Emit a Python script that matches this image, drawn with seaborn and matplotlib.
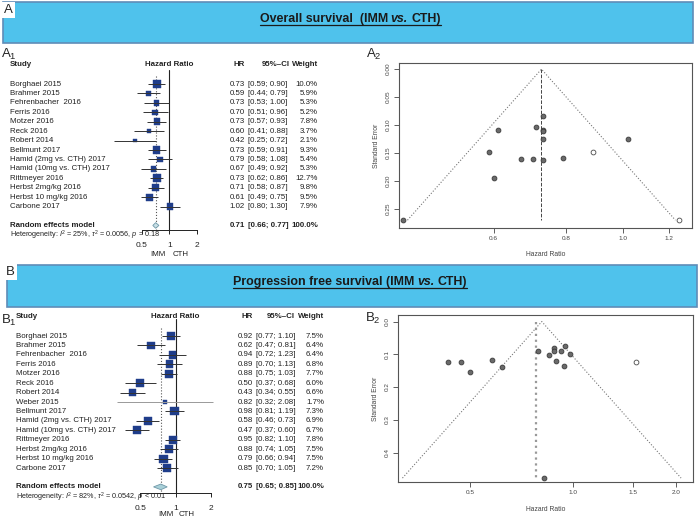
import numpy as np
import pandas as pd
import matplotlib
matplotlib.use("Agg")
import matplotlib.pyplot as plt
import seaborn as sns
from matplotlib.transforms import IdentityTransform, blended_transform_factory
from matplotlib.patches import Rectangle
from matplotlib.lines import Line2D
from matplotlib.ticker import NullLocator, FixedLocator, FixedFormatter

# ---- data: overall survival ----
os_study = ["Borghaei 2015", "Brahmer 2015", "Fehrenbacher  2016", "Ferris 2016", "Motzer 2016",
            "Reck 2016", "Robert 2014", "Bellmunt 2017", "Hamid (2mg vs. CTH) 2017",
            "Hamid (10mg vs. CTH) 2017", "Rittmeyer 2016", "Herbst 2mg/kg 2016",
            "Herbst 10 mg/kg 2016", "Carbone 2017"]
os_hr = [0.73, 0.59, 0.73, 0.70, 0.73, 0.60, 0.42, 0.73, 0.79, 0.67, 0.73, 0.71, 0.61, 1.02]
os_lo = [0.59, 0.44, 0.53, 0.51, 0.57, 0.41, 0.25, 0.59, 0.58, 0.49, 0.62, 0.58, 0.49, 0.80]
os_hi = [0.90, 0.79, 1.00, 0.96, 0.93, 0.88, 0.72, 0.91, 1.08, 0.92, 0.86, 0.87, 0.75, 1.30]
os_wt = [10.0, 5.9, 5.3, 5.2, 7.8, 3.7, 2.1, 9.3, 5.4, 5.3, 12.7, 9.8, 9.5, 7.9]
os_pooled = [0.71, 0.66, 0.77]
os_het = r"Heterogeneity: $I^2$ = 25%, $\tau^2$ = 0.0056, $p$ = 0.18"
# funnel (standard errors)
os_se = [0.108, 0.149, 0.162, 0.161, 0.125, 0.195, 0.270, 0.111, 0.159, 0.161, 0.084, 0.103, 0.109, 0.124]
os_fill_hr = [0.89, 1.25]
os_fill_se = [0.149, 0.270]
os_center = 0.725

# ---- data: progression free survival ----
pfs_study = ["Borghaei 2015", "Brahmer 2015", "Fehrenbacher  2016", "Ferris 2016", "Motzer 2016",
             "Reck 2016", "Robert 2014", "Weber 2015", "Bellmunt 2017", "Hamid (2mg vs. CTH) 2017",
             "Hamid (10mg vs. CTH) 2017", "Rittmeyer 2016", "Herbst 2mg/kg 2016",
             "Herbst 10 mg/kg 2016", "Carbone 2017"]
pfs_hr = [0.92, 0.62, 0.94, 0.89, 0.88, 0.50, 0.43, 0.82, 0.98, 0.58, 0.47, 0.95, 0.88, 0.79, 0.85]
pfs_lo = [0.77, 0.47, 0.72, 0.70, 0.75, 0.37, 0.34, 0.32, 0.81, 0.46, 0.37, 0.82, 0.74, 0.66, 0.70]
pfs_hi = [1.10, 0.81, 1.23, 1.13, 1.03, 0.68, 0.55, 2.08, 1.19, 0.73, 0.60, 1.10, 1.05, 0.94, 1.05]
pfs_wt = [7.5, 6.4, 6.4, 6.8, 7.7, 6.0, 6.6, 1.7, 7.3, 6.9, 6.7, 7.8, 7.5, 7.5, 7.2]
pfs_pooled = [0.75, 0.65, 0.85]
pfs_het = r"Heterogeneity: $I^2$ = 82%, $\tau^2$ = 0.0542, $p$ < 0.01"
pfs_se = [0.091, 0.139, 0.137, 0.122, 0.081, 0.155, 0.123, 0.478, 0.098, 0.118, 0.123, 0.075, 0.089, 0.090, 0.103]
pfs_fill_hr = [1.53]
pfs_fill_se = [0.123]
pfs_center = 0.81
pfs_vline = 0.78

sns.set_theme(style="white")
plt.rcParams["font.family"] = ["Liberation Sans", "DejaVu Sans"]
plt.rcParams["mathtext.fontset"] = "custom"
plt.rcParams["mathtext.rm"] = "Liberation Sans"
plt.rcParams["mathtext.it"] = "Liberation Sans:italic"
plt.rcParams["mathtext.bf"] = "Liberation Sans:bold"

W, H = 700, 518
fig = plt.figure(figsize=(W / 100, H / 100), dpi=100)
fig.patch.set_facecolor("white")


def rect(x0, y0, x1, y1):
    return [x0 / W, 1 - y1 / H, (x1 - x0) / W, (y1 - y0) / H]


def ptext(x, y, s, **kw):
    return fig.text(x / W, 1 - y / H, s, **kw)


def banner(x0, y0, x1, y1, letter, lx, ly, parts):
    fig.add_artist(Rectangle((x0 / W, 1 - y1 / H), (x1 - x0) / W, (y1 - y0) / H,
                             transform=fig.transFigure, facecolor="#4fc2ec",
                             edgecolor="#5f8cb8", lw=1.2))
    ptext(lx, ly, letter, fontsize=9.5, va="center", ha="left",
          bbox=dict(facecolor="white", edgecolor="none", pad=1.2))
    # title made of pieces (italic "vs.") and underlined
    r = fig.canvas.get_renderer()
    objs = [fig.text(0, 0, s, fontsize=8.9, fontweight="bold", style=st,
                     transform=IdentityTransform(), va="baseline", color="#1a1a1a")
            for s, st in parts]
    ws = [o.get_window_extent(r).width for o in objs]
    gap = 3
    total = sum(ws) + gap * (len(ws) - 1)
    cx, base = 350, y0 + 20
    x = cx - total / 2
    for o, w in zip(objs, ws):
        o.set_position((x, H - base))
        x += w + gap
    fig.add_artist(Line2D([cx - total / 2, cx + total / 2], [H - base - 2.5, H - base - 2.5],
                          transform=IdentityTransform(), color="#1a1a1a", lw=0.9))


def panel_label(x, y, letter, num):
    ptext(x, y, letter + r"$_\mathregular{" + num + "}$", fontsize=9.5, va="center", ha="left")


def forest(L, study, hr, lo, hi, wt, pooled, het):
    n = len(study)
    rows = np.arange(n)
    r_top = (L["ax_y0"] - L["row0"]) / L["rh"]
    r_bot = (L["ax_y1"] - L["row0"]) / L["rh"]
    ax = fig.add_axes(rect(L["ax_x0"], L["ax_y0"], L["ax_x1"], L["ax_y1"]))
    ax.set_xscale("log")
    ax.set_xlim(np.exp((L["ax_x0"] - L["ref"]) / L["sc"]), np.exp((L["ax_x1"] - L["ref"]) / L["sc"]))
    ax.set_ylim(r_bot, r_top)
    ax.patch.set_alpha(0)
    for s in ["top", "left", "right"]:
        ax.spines[s].set_visible(False)
    ax.spines["bottom"].set_bounds(0.5, 2)
    ax.spines["bottom"].set_color("#222")
    ax.spines["bottom"].set_linewidth(0.7)
    ax.xaxis.set_major_locator(FixedLocator([0.5, 1, 2]))
    ax.xaxis.set_major_formatter(FixedFormatter(["0.5", "1", "2"]))
    ax.xaxis.set_minor_locator(NullLocator())
    ax.tick_params(axis="x", bottom=True, direction="out", length=3, width=0.7, pad=5.5,
                   labelsize=6, colors="#222")
    ax.set_yticks([])
    ax.grid(False)

    ax.axvline(1, color="#222", lw=0.8, zorder=1)
    ax.plot([pooled[0], pooled[0]], [-0.8, r_bot], ls=":", color="#555", lw=0.8, zorder=1)

    df = pd.DataFrame({"hr": hr, "row": rows, "wt": wt})
    sns.scatterplot(data=df, x="hr", y="row", size="wt", sizes=(0, 36), size_norm=(0, max(wt)),
                    marker="s", color="#1f3d8a", edgecolor="#1f3d8a", linewidth=0.3,
                    legend=False, ax=ax, zorder=3)
    line_col = ["#999999" if w < 2 else "#333333" for w in wt]
    ax.hlines(rows, lo, hi, colors=line_col, lw=0.7, zorder=4)
    ax.set_xlabel("")
    ax.set_ylabel("")

    pr = L["pooled_row"]
    ax.fill([pooled[1], pooled[0], pooled[2], pooled[0]], [pr, pr - 0.3, pr, pr + 0.3],
            facecolor=L["diamond"], edgecolor="#6f98a8", lw=0.6, zorder=5)

    tr = blended_transform_factory(fig.transFigure, ax.transData)
    fs = 5.65
    for i in range(n):
        fig.text(L["x_name"] / W, i, study[i], transform=tr, fontsize=fs, va="center", ha="left", color="#222")
        fig.text(L["x_hr"] / W, i, f"{hr[i]:.2f}", transform=tr, fontsize=fs, va="center", ha="right", color="#222")
        fig.text(L["x_ci"] / W, i, f"[{lo[i]:.2f}; {hi[i]:.2f}]", transform=tr, fontsize=fs,
                 va="center", ha="left", color="#222")
        fig.text(L["x_wt"] / W, i, f"{wt[i]:.1f}%", transform=tr, fontsize=fs, va="center", ha="right", color="#222")
    fig.text(L["x_name"] / W, pr, "Random effects model", transform=tr, fontsize=fs,
             fontweight="bold", va="center", ha="left", color="#222")
    fig.text(L["x_hr"] / W, pr, f"{pooled[0]:.2f}", transform=tr, fontsize=fs, fontweight="bold",
             va="center", ha="right", color="#222")
    fig.text(L["x_ci"] / W, pr, f"[{pooled[1]:.2f}; {pooled[2]:.2f}]", transform=tr, fontsize=fs,
             fontweight="bold", va="center", ha="left", color="#222")
    fig.text(L["x_wt"] / W, pr, "100.0%", transform=tr, fontsize=fs, fontweight="bold",
             va="center", ha="right", color="#222")

    hy = L["hdr_y"]
    ptext(L["x_name"], hy, "Study", fontsize=fs, fontweight="bold", va="center", ha="left", color="#222")
    ptext(L["ref"], hy, "Hazard Ratio", fontsize=fs, fontweight="bold", va="center", ha="center", color="#222")
    ptext(L["x_hr"], hy, "HR", fontsize=fs, fontweight="bold", va="center", ha="right", color="#222")
    ptext(L["x_cih"], hy, "95%\u2013CI", fontsize=fs, fontweight="bold", va="center", ha="right", color="#222")
    ptext(L["x_wt"], hy, "Weight", fontsize=fs, fontweight="bold", va="center", ha="right", color="#222")
    ptext(L["x_name"], L["het_y"], het, fontsize=5.2, va="center", ha="left", color="#222")
    ptext(L["imm_x"], L["lab_y"], "IMM", fontsize=fs, va="center", ha="center", color="#222")
    ptext(L["cth_x"], L["lab_y"], "CTH", fontsize=fs, va="center", ha="center", color="#222")


def funnel(box, hr, se, fhr, fse, center, vline, vstyle, xlim, ylim, xt, xtl, yt, ytl, lab_gap):
    ax = fig.add_axes(rect(*box))
    sns.scatterplot(x=hr, y=se, ax=ax, s=12, color="#6a6a6a", edgecolor="#3a3a3a",
                    linewidth=0.6, legend=False, zorder=4)
    sns.scatterplot(x=fhr, y=fse, ax=ax, s=12, color="white", edgecolor="#4a4a4a",
                    linewidth=0.6, legend=False, zorder=4)
    ax.set_xscale("log")
    semax = max(se)
    ax.plot([np.exp(np.log(center) - 1.96 * semax), center, np.exp(np.log(center) + 1.96 * semax)],
            [semax, 0, semax], ls=":", color="#777", lw=0.8, zorder=2)
    ax.plot([vline, vline], [0, semax], **vstyle, zorder=2)
    ax.set_xlim(*xlim)
    ax.set_ylim(*ylim)
    ax.xaxis.set_major_locator(FixedLocator(xt))
    ax.xaxis.set_major_formatter(FixedFormatter(xtl))
    ax.xaxis.set_minor_locator(NullLocator())
    ax.set_yticks(yt)
    ax.set_yticklabels(ytl, rotation=90, va="center")
    ax.tick_params(axis="both", bottom=True, left=True, direction="out", length=3.5, width=0.6,
                   labelsize=4.6, colors="#444", pad=2.5)
    for s in ax.spines.values():
        s.set_visible(True)
        s.set_color("#555")
        s.set_linewidth(0.8)
    ax.grid(False)
    ax.set_xlabel("Hazard Ratio", fontsize=4.9, color="#444", labelpad=lab_gap)
    ax.set_ylabel("Standard Error", fontsize=4.9, color="#444", labelpad=4)
    return ax


# ---- banners ----
banner(3, 2, 693, 43, "A", 4, 10,
       [("Overall survival  (IMM", "normal"), ("vs.", "italic"), ("CTH)", "normal")])
banner(7, 265, 697, 307, "B", 6, 272,
       [("Progression free survival (IMM", "normal"), ("vs.", "italic"), ("CTH)", "normal")])

panel_label(1, 54, "A", "1")
panel_label(366, 54, "A", "2")
panel_label(1, 320, "B", "1")
panel_label(365, 318, "B", "2")

# ---- forest plots ----
layout_os = dict(row0=84, rh=9.43, ax_x0=105, ax_x1=215, ax_y0=70, ax_y1=230, ref=169.3, sc=39.7,
                 x_name=10, x_hr=245, x_ci=248, x_cih=290, x_wt=318, pooled_row=15,
                 hdr_y=65, het_y=235, lab_y=254, imm_x=158, cth_x=181, diamond="#c9e0e6")
layout_pfs = dict(row0=336, rh=9.43, ax_x0=105, ax_x1=222, ax_y0=319, ax_y1=493, ref=175.5, sc=51,
                  x_name=16, x_hr=253, x_ci=256, x_cih=295, x_wt=324, pooled_row=16,
                  hdr_y=317, het_y=497, lab_y=515, imm_x=166, cth_x=187, diamond="#a9d0d8")
forest(layout_os, os_study, os_hr, os_lo, os_hi, os_wt, os_pooled, os_het)
forest(layout_pfs, pfs_study, pfs_hr, pfs_lo, pfs_hi, pfs_wt, pfs_pooled, pfs_het)

# ---- funnel plots ----
funnel((399, 63, 692, 228), os_hr, os_se, os_fill_hr, os_fill_se, os_center, os_center,
       dict(ls="--", color="#444", lw=0.7), (0.413, 1.314), (0.284, -0.011),
       [0.6, 0.8, 1.0, 1.2], ["0.6", "0.8", "1.0", "1.2"],
       [0.0, 0.05, 0.10, 0.15, 0.20, 0.25], ["0.00", "0.05", "0.10", "0.15", "0.20", "0.25"], 7)
funnel((398, 315, 693, 482), pfs_hr, pfs_se, pfs_fill_hr, pfs_fill_se, pfs_center, pfs_vline,
       dict(ls=":", color="#999", lw=1.6), (0.308, 2.24), (0.49, -0.02),
       [0.5, 1.0, 1.5, 2.0], ["0.5", "1.0", "1.5", "2.0"],
       [0.0, 0.1, 0.2, 0.3, 0.4], ["0.0", "0.1", "0.2", "0.3", "0.4"], 8)

fig.savefig("out.png", dpi=100)
